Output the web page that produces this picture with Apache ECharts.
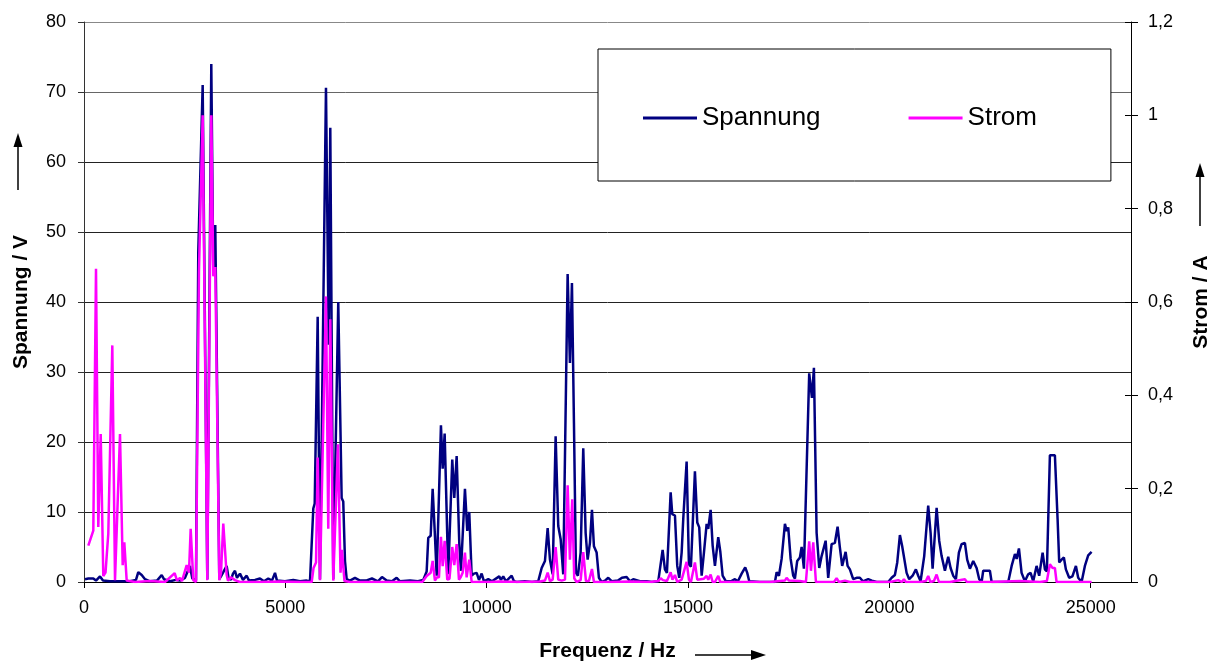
<!DOCTYPE html>
<html>
<head>
<meta charset="utf-8">
<script src="https://cdn.jsdelivr.net/npm/echarts@6/dist/echarts.min.js"></script>
<style>
  html, body { margin: 0; padding: 0; background: #fff; }
  #chart { width: 1215px; height: 662px; }
</style>
</head>
<body>
<div id="chart"></div>
<script>
// Spectrum of voltage (V) and current (A) over frequency (Hz)
const spannungHz = [25,107,231,298,397,472,646,894,1142,1291,1348,1433,1515,1639,1813,1929,1986,2135,2284,2384,2508,2565,2632,2690,2730,2781,2838,2880,2947,3062,3161,3211,3260,3360,3402,3459,3543,3588,3650,3700,3749,3799,3873,3948,4040,4097,4246,4370,4469,4576,4668,4743,4792,4991,5197,5363,5530,5612,5694,5729,5803,5860,6009,6076,6116,6190,6314,6398,6438,6481,6523,6605,6729,6853,7002,7151,7300,7399,7516,7648,7764,7846,8095,8293,8425,8509,8549,8609,8658,8715,8758,8864,8907,8956,9045,9145,9195,9254,9319,9361,9460,9517,9567,9627,9684,9751,9808,9875,9932,10039,10131,10312,10354,10411,10478,10620,10677,10744,10950,11124,11280,11365,11447,11514,11571,11638,11712,11777,11837,11901,12010,12067,12117,12167,12217,12266,12333,12398,12457,12507,12564,12614,12663,12730,12787,12855,12937,13019,13110,13259,13359,13475,13557,13639,13805,13971,14104,14260,14369,14426,14476,14568,14608,14675,14732,14782,14841,14881,14965,15022,15072,15171,15229,15278,15338,15395,15462,15502,15561,15611,15668,15750,15800,15859,15941,16065,16164,16239,16331,16420,16470,16520,16785,17158,17200,17257,17324,17406,17448,17488,17548,17612,17654,17711,17778,17821,17878,17927,18009,18077,18126,18193,18258,18317,18362,18417,18481,18565,18647,18714,18771,18828,18913,18962,19019,19101,19186,19268,19342,19474,19566,19683,19971,20056,20137,20195,20261,20318,20361,20428,20492,20577,20658,20716,20775,20865,20964,21024,21073,21173,21237,21297,21379,21461,21520,21585,21652,21726,21793,21875,21932,22000,22082,22166,22231,22290,22330,22496,22539,22951,23036,23118,23160,23217,23283,23365,23447,23507,23572,23655,23720,23805,23862,23911,23986,24110,24177,24217,24276,24333,24383,24465,24545,24632,24689,24773,24855,24937,25021];
const spannungV = [0.4,0.5,0.5,0.2,0.8,0.2,0.1,0.1,0.1,0.3,1.4,1.0,0.4,0.1,0.2,1.0,0.4,0.1,0.3,0.2,0.6,1.4,2.3,0.5,0.3,0.2,47.2,47.4,71.0,0.4,74.0,44.2,51.0,0.4,0.8,1.4,2.3,0.6,0.3,1.2,1.6,0.6,1.2,0.3,0.9,0.2,0.3,0.5,0.1,0.5,0.2,1.3,0.2,0.1,0.3,0.1,0.2,0.1,10.5,11.2,37.9,0.4,70.6,33.9,64.9,0.4,40.0,12.0,11.5,3.0,0.4,0.2,0.6,0.2,0.2,0.5,0.1,0.7,0.2,0.1,0.6,0.1,0.2,0.1,0.3,1.5,6.3,6.6,13.3,6.6,0.9,22.4,16.2,21.2,1.1,17.5,12.0,18.0,5.6,1.6,13.3,7.3,10.0,0.9,1.2,1.3,0.3,1.2,0.1,0.4,0.1,0.8,0.3,0.8,0.1,0.9,0.1,0.0,0.1,0.0,0.1,2.0,3.0,7.7,3.2,1.1,20.8,8.0,6.1,1.1,44.0,31.3,42.7,22.7,1.3,0.9,4.2,19.1,7.0,3.2,5.6,10.3,5.1,4.2,0.6,0.0,0.2,0.6,0.1,0.2,0.6,0.7,0.1,0.4,0.1,0.1,0.0,0.1,4.6,1.8,1.3,12.8,9.7,9.5,2.3,0.6,4.2,9.0,17.2,2.5,2.2,15.8,8.5,7.8,0.9,4.2,8.3,7.6,10.3,5.2,2.3,6.4,4.4,0.9,0.1,0.1,0.4,0.1,1.2,2.1,1.3,0.1,0.0,0.0,1.4,0.9,3.3,8.3,7.3,7.8,3.3,0.9,0.5,3.0,3.5,5.0,1.9,1.9,29.8,26.3,30.6,7.0,2.0,3.7,3.8,5.9,0.6,5.4,5.6,7.9,4.9,2.3,4.3,2.3,1.8,0.4,0.6,0.6,0.1,0.4,0.2,0.0,0.0,0.6,1.0,2.8,6.7,5.1,4.9,1.3,0.4,0.9,1.8,0.9,0.1,3.7,10.9,7.0,1.9,10.6,5.9,3.7,1.6,3.6,2.0,0.9,0.4,4.2,5.4,5.6,3.2,1.9,3.0,2.0,0.4,0.0,1.6,1.6,0.0,0.0,2.3,4.0,3.3,4.8,1.3,0.1,1.1,1.3,0.1,2.3,0.9,4.2,1.8,1.5,18.1,18.1,9.0,2.8,3.2,3.5,1.8,0.6,0.8,2.3,0.6,0.0,2.3,3.8,4.3];

const stromHz = [107,231,298,355,415,479,534,603,703,770,894,961,1001,1060,1266,1639,2011,2252,2309,2384,2433,2550,2607,2649,2714,2781,2855,2947,3062,3161,3211,3260,3360,3402,3459,3543,3576,3650,3749,3873,4370,4867,5363,5654,5700,5762,5803,5860,6009,6066,6116,6190,6307,6370,6406,6468,6605,7500,8400,8509,8554,8609,8658,8715,8765,8815,8864,8907,8956,9021,9076,9145,9195,9254,9311,9353,9403,9460,9502,9567,9627,9833,10081,10329,10826,11323,11447,11514,11571,11638,11712,11777,11862,11944,12010,12067,12125,12174,12234,12333,12398,12465,12539,12614,12663,13060,13557,14054,14260,14320,14377,14476,14568,14613,14675,14732,14841,14965,15022,15072,15171,15229,15278,15395,15462,15502,15561,15611,15668,15750,15800,16041,16537,17034,17406,17448,17505,17778,17927,18009,18052,18109,18176,18400,18623,18689,18747,18896,19019,19516,20013,20220,20261,20310,20361,20410,20758,20907,20964,21019,21106,21173,21230,21503,21875,21925,22496,23241,23738,23911,23986,24053,24110,24152,24482,25021];
const stromA = [0.078,0.110,0.671,0.118,0.317,0.013,0.020,0.103,0.507,0.004,0.317,0.036,0.085,0.003,0.0,0.002,0.0,0.019,0.003,0.009,0.002,0.036,0.020,0.114,0.004,0.0,0.666,1.0,0.004,1.0,0.655,0.675,0.004,0.020,0.125,0.015,0.003,0.010,0.004,0.0,0.0,0.001,0.0,0.0,0.030,0.042,0.267,0.004,0.612,0.114,0.563,0.003,0.295,0.020,0.069,0.002,0.0,0.0,0.0,0.013,0.010,0.020,0.045,0.003,0.010,0.010,0.097,0.034,0.088,0.005,0.007,0.075,0.036,0.081,0.005,0.010,0.020,0.063,0.010,0.048,0.0,0.0,0.0,0.001,0.0,0.001,0.003,0.020,0.002,0.005,0.075,0.005,0.003,0.005,0.207,0.048,0.177,0.008,0.0,0.004,0.064,0.002,0.002,0.028,0.0,0.0,0.001,0.0,0.002,0.008,0.004,0.002,0.021,0.005,0.015,0.0,0.005,0.043,0.005,0.0,0.042,0.005,0.003,0.007,0.013,0.005,0.016,0.0,0.0,0.013,0.0,0.0,0.0,0.0,0.003,0.009,0.003,0.002,0.0,0.087,0.024,0.085,0.0,0.0,0.0,0.008,0.0,0.003,0.0,0.0,0.0,0.004,0.008,0.0,0.006,0.0,0.0,0.002,0.013,0.0,0.002,0.016,0.0,0.0,0.006,0.0,0.0,0.002,0.0,0.002,0.038,0.030,0.030,0.0,0.0,0.0];

// Axis tick values
const freqTicks = [0, 5000, 10000, 15000, 20000, 25000];

const zip = (xs, ys) => xs.map((x, i) => [x, ys[i]]);
const FONT = 'Arial, "Liberation Sans", sans-serif';

const chart = echarts.init(document.getElementById('chart'), null, { renderer: 'canvas' });

const labelStyle = { color: '#000', fontSize: 18, fontFamily: FONT };
const nameStyle = { color: '#000', fontSize: 21, fontWeight: 'bold', fontFamily: FONT };

chart.setOption({
  animation: false,
  backgroundColor: '#fff',
  grid: { left: 84, right: 84, top: 22, bottom: 80, outerBoundsMode: 'none', containLabel: false },
  legend: {
    data: ['Spannung', 'Strom'],
    left: 598,
    top: 49,
    orient: 'horizontal',
    padding: [56, 74, 50, 45],
    itemGap: 88,
    itemWidth: 54,
    itemHeight: 3,
    icon: 'rect',
    borderColor: '#000',
    borderWidth: 1,
    backgroundColor: '#fff',
    textStyle: { color: '#000', fontSize: 26, fontFamily: FONT }
  },
  xAxis: {
    type: 'value',
    min: 0,
    max: 26000,
    interval: 5000,
    name: 'Frequenz / Hz',
    nameLocation: 'middle',
    nameGap: 59,
    nameTextStyle: nameStyle,
    axisLine: { show: true, lineStyle: { color: '#000', width: 1 } },
    axisTick: { show: true, length: 6, inside: false, customValues: freqTicks, lineStyle: { color: '#000' } },
    axisLabel: { ...labelStyle, margin: 17, customValues: freqTicks, formatter: v => String(v) },
    splitLine: { show: false }
  },
  yAxis: [
    {
      type: 'value',
      position: 'left',
      min: 0,
      max: 80,
      interval: 10,
      name: 'Spannung / V',
      nameLocation: 'middle',
      nameRotate: 90,
      nameGap: 52,
      nameTextStyle: nameStyle,
      axisLine: { show: true, lineStyle: { color: '#333', width: 1 } },
      axisTick: { show: true, length: 6, lineStyle: { color: '#333' } },
      axisLabel: { ...labelStyle, margin: 18 },
      splitLine: {
        show: true,
        lineStyle: {
          color: ['#000', '#222', '#222', '#222', '#222', '#222', '#222', '#666', '#888'],
          width: 1
        }
      }
    },
    {
      type: 'value',
      position: 'right',
      min: 0,
      max: 1.2,
      interval: 0.2,
      name: 'Strom / A',
      nameLocation: 'middle',
      nameRotate: 90,
      nameGap: 60,
      nameTextStyle: nameStyle,
      axisLine: { show: true, lineStyle: { color: '#000', width: 1 } },
      axisTick: { show: true, length: 7, lineStyle: { color: '#000' } },
      axisLabel: {
        ...labelStyle,
        margin: 17,
        formatter: v => String(Math.round(v * 10) / 10).replace('.', ',')
      },
      splitLine: { show: false }
    },
    {
      // inner half of the crossing ticks on the current axis
      type: 'value',
      position: 'right',
      min: 0,
      max: 1.2,
      interval: 0.2,
      axisLine: { show: false },
      axisTick: { show: true, inside: true, length: 6, lineStyle: { color: '#000' } },
      axisLabel: { show: false },
      splitLine: { show: false }
    }
  ],
  series: [
    {
      name: 'Spannung',
      type: 'line',
      yAxisIndex: 0,
      data: zip(spannungHz, spannungV),
      showSymbol: false,
      symbol: 'none',
      color: '#000080',
      lineStyle: { color: '#000080', width: 2.5 },
      emphasis: { disabled: true }
    },
    {
      name: 'Strom',
      type: 'line',
      yAxisIndex: 1,
      data: zip(stromHz, stromA),
      showSymbol: false,
      symbol: 'none',
      color: '#FF00FF',
      lineStyle: { color: '#FF00FF', width: 2.5 },
      emphasis: { disabled: true }
    }
  ],
  graphic: [
    // arrow beside the voltage axis title
    { type: 'line', shape: { x1: 18, y1: 190, x2: 18, y2: 145 }, style: { stroke: '#000', lineWidth: 1.5 } },
    { type: 'polygon', shape: { points: [[18, 133], [13.5, 147], [22.5, 147]] }, style: { fill: '#000' } },
    // arrow beside the current axis title
    { type: 'line', shape: { x1: 1200, y1: 226, x2: 1200, y2: 175 }, style: { stroke: '#000', lineWidth: 1.5 } },
    { type: 'polygon', shape: { points: [[1200, 163], [1195.5, 177], [1204.5, 177]] }, style: { fill: '#000' } },
    // arrow beside the frequency axis title
    { type: 'line', shape: { x1: 695, y1: 655, x2: 752, y2: 655 }, style: { stroke: '#000', lineWidth: 1.5 } },
    { type: 'polygon', shape: { points: [[766, 655], [751, 650], [751, 660]] }, style: { fill: '#000' } }
  ]
});
</script>
</body>
</html>
